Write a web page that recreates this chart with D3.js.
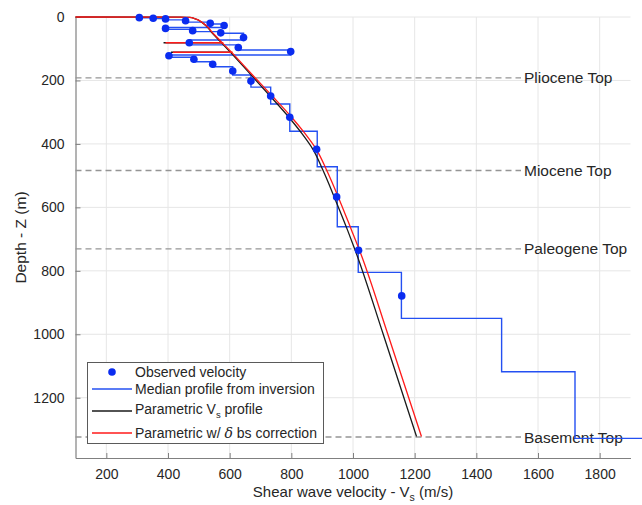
<!DOCTYPE html>
<html>
<head>
<meta charset="utf-8">
<script src="https://cdn.jsdelivr.net/npm/d3@7"></script>
<style>
	body { margin: 0; background: #fff; }
	svg text { font-family: "Liberation Sans", Arial, Helvetica, sans-serif; fill: #262626; }
</style>
</head>
<body>
<svg id="chart" width="642" height="505"></svg>
<script>
// observed velocity points
var obsVel = [307, 352, 392, 457, 537, 582, 392, 480, 571, 645, 469, 628, 798, 403, 484, 545, 610, 669, 733, 795, 882, 947, 1018, 1158];
var obsDepth = [2, 4, 6, 12, 20, 27, 36, 43, 50, 65, 81, 96, 109, 122, 133, 149, 170, 202, 249, 316, 417, 567, 735, 879];

// median profile from inversion: layer top depth + layer velocity
var layerTop = [0, 2.5, 5, 9, 16, 22, 33, 39, 46, 51, 72.5, 88, 104, 120, 127, 141, 157, 183, 221, 274, 360, 472, 661, 805, 950, 1118, 1328];
var layerVel = [307, 352, 392, 457, 537, 582, 392, 480, 571, 645, 469, 628, 798, 403, 484, 545, 610, 669, 733, 795, 884, 949, 1017, 1157, 1482, 1720, 1940];

// parametric profiles
var paramDepth = [0, 0.5, 1.5, 4, 20, 51, 83, 114, 151, 193, 249, 316, 367, 417, 484, 567, 671, 735, 1000, 1322];
var paramVel = [100, 440, 470, 484, 514, 544, 575, 605, 640, 679, 731, 792, 834, 870, 903, 939, 982, 1007, 1098, 1206];
var corrVel = [100, 440, 470, 484, 515, 546, 578, 609, 644, 684, 738, 801, 844, 881, 915, 952, 995, 1021, 1113, 1222];

// short horizontal spikes in the parametric curves
var spikeDepth = [81, 111];
var spikeFrom = [392, 416];
var spikeTo = [573, 603];

// formation tops
var topNames = ["Pliocene Top", "Miocene Top", "Paleogene Top", "Basement Top"];
var topDepth = [192, 484, 731, 1324];

var xTicks = [200, 400, 600, 800, 1000, 1200, 1400, 1600, 1800];
var yTicks = [0, 200, 400, 600, 800, 1000, 1200];

var width = 642, height = 505;
var margin = { top: 17, left: 75.5, right: 11.5, bottom: 47 };

var svg = d3.select("#chart");

var xScale = d3.scaleLinear()
	.domain([100, 1900])
	.range([margin.left, width - margin.right]);

var yScale = d3.scaleLinear()
	.domain([0, 1390])
	.range([margin.top, height - margin.bottom]);

// grid
var grid = svg.append("g").attr("class", "grid");
grid.selectAll("line.gx")
	.data(xTicks)
	.enter()
	.append("line")
	.attr("x1", function(d) { return xScale(d); })
	.attr("x2", function(d) { return xScale(d); })
	.attr("y1", yScale(0))
	.attr("y2", yScale(1390))
	.attr("stroke", "#e6e6e6")
	.attr("stroke-width", 1);
grid.selectAll("line.gy")
	.data(yTicks)
	.enter()
	.append("line")
	.attr("x1", xScale(100))
	.attr("x2", xScale(1900))
	.attr("y1", function(d) { return yScale(d); })
	.attr("y2", function(d) { return yScale(d); })
	.attr("stroke", "#e6e6e6")
	.attr("stroke-width", 1);

// axes
var xAxis = d3.axisBottom(xScale).tickValues(xTicks).tickFormat(d3.format("d"))
	.tickSizeInner(-5).tickSizeOuter(0).tickPadding(11);
var yAxis = d3.axisLeft(yScale).tickValues(yTicks).tickFormat(d3.format("d"))
	.tickSizeInner(-5).tickSizeOuter(0).tickPadding(11);

var gx = svg.append("g")
	.attr("transform", "translate(0," + (height - margin.bottom) + ")")
	.call(xAxis);
var gy = svg.append("g")
	.attr("transform", "translate(" + margin.left + ",0)")
	.call(yAxis);

[gx, gy].forEach(function(g) {
	g.select(".domain").attr("stroke", "#808080").attr("stroke-width", 1.2);
	g.selectAll(".tick line").attr("stroke", "#808080");
	g.selectAll(".tick text")
		.attr("font-size", 14)
		.attr("fill", "#262626")
		.style("font-family", "Liberation Sans, Arial, sans-serif");
});

// formation top dashed lines
var tops = svg.append("g").attr("class", "tops");
tops.selectAll("line")
	.data(topDepth)
	.enter()
	.append("line")
	.attr("x1", xScale(100))
	.attr("x2", 521)
	.attr("y1", function(d) { return yScale(d); })
	.attr("y2", function(d) { return yScale(d); })
	.attr("stroke", "#959595")
	.attr("stroke-width", 1.4)
	.attr("stroke-dasharray", "6,4");
tops.selectAll("text")
	.data(topNames)
	.enter()
	.append("text")
	.attr("x", 524)
	.attr("y", function(d, i) { return yScale(topDepth[i]) + 5.5; })
	.attr("font-size", 15.5)
	.text(function(d) { return d; });

var content = svg.append("g").attr("class", "content");

// median profile step line
var stepLine = d3.line()
	.x(function(d) { return xScale(d[0]); })
	.y(function(d) { return yScale(d[1]); })
	.curve(d3.curveStepBefore);

content.append("path")
	.datum(layerVel.map(function(v, i) { return [v, layerTop[i]]; }))
	.attr("d", stepLine)
	.attr("fill", "none")
	.attr("stroke", "#2450f2")
	.attr("stroke-width", 1.4);

// parametric curves
var curveLine = d3.line()
	.x(function(d) { return xScale(d[0]); })
	.y(function(d) { return yScale(d[1]); })
	.curve(d3.curveMonotoneY);

content.selectAll("line.spikeK")
	.data(spikeDepth)
	.enter()
	.append("line")
	.attr("x1", function(d, i) { return xScale(spikeFrom[i]) - 2; })
	.attr("x2", function(d, i) { return xScale(spikeTo[i]); })
	.attr("y1", function(d) { return yScale(d); })
	.attr("y2", function(d) { return yScale(d); })
	.attr("stroke", "#1a1a1a")
	.attr("stroke-width", 1.6);

content.append("path")
	.datum(paramVel.map(function(v, i) { return [v, paramDepth[i]]; }))
	.attr("d", curveLine)
	.attr("fill", "none")
	.attr("stroke", "#1a1a1a")
	.attr("stroke-width", 1.3);

content.selectAll("line.spikeR")
	.data(spikeDepth)
	.enter()
	.append("line")
	.attr("x1", function(d, i) { return xScale(spikeFrom[i]); })
	.attr("x2", function(d, i) { return xScale(spikeTo[i]) + 2; })
	.attr("y1", function(d) { return yScale(d); })
	.attr("y2", function(d) { return yScale(d); })
	.attr("stroke", "#ff1a1a")
	.attr("stroke-width", 1.6);

content.append("path")
	.datum(corrVel.map(function(v, i) { return [v, paramDepth[i]]; }))
	.attr("d", curveLine)
	.attr("fill", "none")
	.attr("stroke", "#ff1a1a")
	.attr("stroke-width", 1.3);

// observed points
content.selectAll("circle")
	.data(obsVel)
	.enter()
	.append("circle")
	.attr("cx", function(d) { return xScale(d); })
	.attr("cy", function(d, i) { return yScale(obsDepth[i]); })
	.attr("r", 3.8)
	.attr("fill", "#0a2cf0");

// axis labels
var xl = svg.append("text")
	.attr("x", (xScale(100) + xScale(1900)) / 2)
	.attr("y", 497)
	.attr("text-anchor", "middle")
	.attr("font-size", 15);
xl.append("tspan").text("Shear wave velocity - V");
xl.append("tspan").attr("font-size", 10.5).attr("dy", 4).text("s");
xl.append("tspan").attr("dy", -4).text(" (m/s)");

svg.append("text")
	.attr("transform", "translate(26," + ((yScale(0) + yScale(1390)) / 2) + ") rotate(-90)")
	.attr("text-anchor", "middle")
	.attr("font-size", 15.5)
	.text("Depth - Z (m)");

// legend
var legend = svg.append("g").attr("class", "legend");
legend.append("rect")
	.attr("x", 87.5)
	.attr("y", 362.5)
	.attr("width", 236)
	.attr("height", 81)
	.attr("fill", "#fff")
	.attr("stroke", "#5a5a5a")
	.attr("stroke-width", 1);

var legRows = [372, 389, 411, 433];
legend.append("circle")
	.attr("cx", 112).attr("cy", legRows[0]).attr("r", 3.8).attr("fill", "#0a2cf0");
var legColors = ["#2450f2", "#1a1a1a", "#ff1a1a"];
legColors.forEach(function(c, i) {
	legend.append("line")
		.attr("x1", 92).attr("x2", 132)
		.attr("y1", legRows[i + 1]).attr("y2", legRows[i + 1])
		.attr("stroke", c)
		.attr("stroke-width", 1.3);
});

legend.append("text").attr("x", 135).attr("y", legRows[0] + 5).attr("font-size", 14).text("Observed velocity");
legend.append("text").attr("x", 135).attr("y", legRows[1] + 5).attr("font-size", 14).text("Median profile from inversion");
var t3 = legend.append("text").attr("x", 135).attr("y", legRows[2] + 3).attr("font-size", 14);
t3.append("tspan").text("Parametric V");
t3.append("tspan").attr("font-size", 9.5).attr("dy", 4).text("s");
t3.append("tspan").attr("dy", -4).text(" profile");
var t4 = legend.append("text").attr("x", 135).attr("y", legRows[3] + 5).attr("font-size", 14);
t4.append("tspan").text("Parametric w/ ");
t4.append("tspan").attr("font-style", "italic").style("font-family", "DejaVu Serif, serif").text("\u03B4");
t4.append("tspan").text(" bs correction");
</script>
</body>
</html>
